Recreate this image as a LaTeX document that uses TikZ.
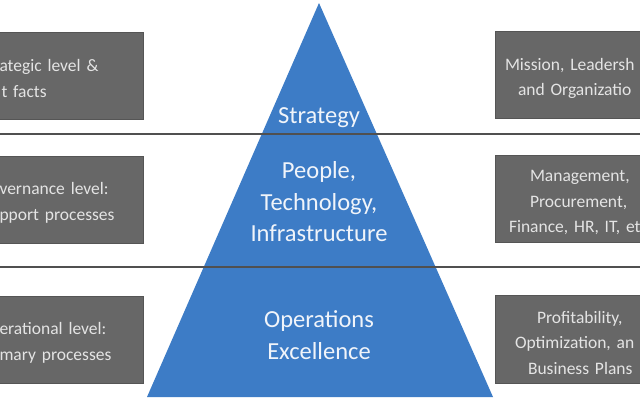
\documentclass[tikz,border=0pt]{standalone}
\usepackage{fontspec}
\setmainfont{Carlito}
\definecolor{tri}{RGB}{61,124,198}
\definecolor{boxfill}{RGB}{103,103,103}
\definecolor{boxedge}{RGB}{85,85,85}
\definecolor{boxtext}{RGB}{228,228,228}
\definecolor{tritxt}{RGB}{240,244,250}
\definecolor{sep}{RGB}{80,80,80}
\newcommand{\pushdown}{\rule{0pt}{18.5pt}}
\begin{document}
\begin{tikzpicture}[x=1pt,y=-1pt,
  infobox/.style={draw=boxedge, line width=0.8pt, fill=boxfill, text=boxtext,
    inner xsep=0pt, inner ysep=0pt, align=left,
    font=\fontsize{17.5}{25.5}\selectfont},
  tritext/.style={text=tritxt, align=center,
    font=\fontsize{24.5}{31.5}\selectfont},
  sepline/.style={draw=sep, line width=1.5pt}]
\useasboundingbox (0,0) rectangle (640,400);
\fill[white] (0,0) rectangle (640,400);
% pyramid
\coordinate (apex) at (319,3);
\coordinate (bl) at (147,397);
\coordinate (br) at (493,397);
\fill[tri] (apex) -- (br) -- (bl) -- cycle;
% left boxes
\node[infobox, minimum height=87pt, text width=144pt] (l1) at (71.5,75.5)
  {\pushdown ategic level \&\\\hspace*{2pt}t facts};
\node[infobox, minimum height=87pt, text width=144pt] (l2) at (71.5,199.5)
  {\pushdown vernance level:\\pport processes};
\node[infobox, minimum height=87pt, text width=144pt] (l3) at (71.5,339.5)
  {\pushdown erational level:\\mary processes};
% right boxes
\node[infobox, minimum height=87pt, text width=147pt] (r1) at (568.5,75)
  {\pushdown\hspace*{10pt}Mission, Leadersh\\\hspace*{23pt}and Organizatio};
\node[infobox, minimum height=87pt, text width=147pt] (r2) at (568.5,199)
  {\pushdown\hspace*{35pt}Management,\\\hspace*{35pt}Procurement,\\\hspace*{14pt}Finance, HR, IT, et};
\node[infobox, minimum height=88pt, text width=147pt] (r3) at (568.5,339.5)
  {\pushdown\hspace*{42pt}Profitability,\\\hspace*{20pt}Optimization, an\\\hspace*{33pt}Business Plans};
% separators
\coordinate (s1a) at (0,134);
\coordinate (s1b) at (640,134);
\coordinate (s2a) at (0,267);
\coordinate (s2b) at (640,267);
\draw[sepline] (s1a) -- (s1b);
\draw[sepline] (s2a) -- (s2b);
% pyramid texts
\node[tritext] (t1) at (319,118) {Strategy};
\node[tritext] (t2) at (319,202) {People,\\Technology,\\Infrastructure};
\node[tritext] (t3) at (319,335) {Operations\\Excellence};
\end{tikzpicture}
\end{document}
